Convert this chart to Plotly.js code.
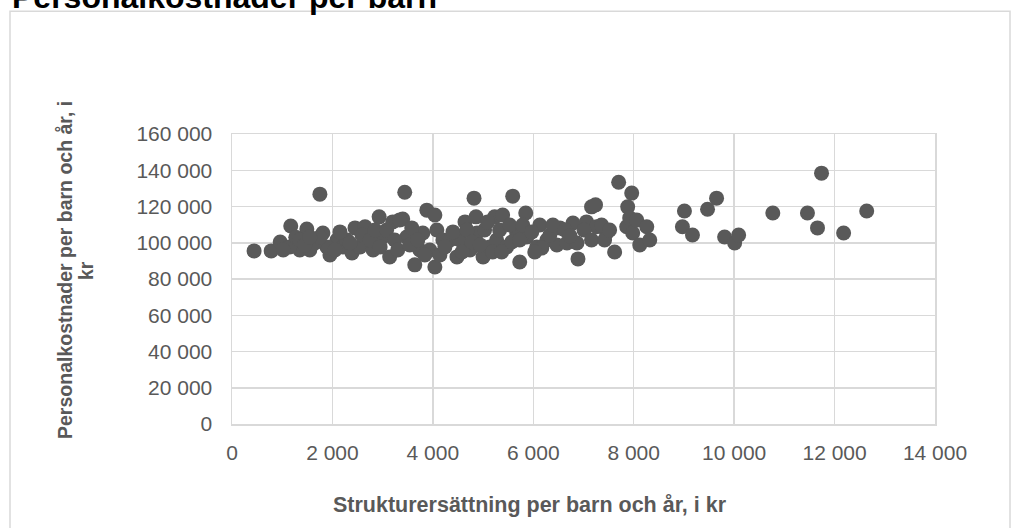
<!DOCTYPE html>
<html>
<head>
<meta charset="utf-8">
<script src="https://cdn.plot.ly/plotly-3.0.1.min.js"></script>
<style>
  html, body { margin: 0; padding: 0; background: #ffffff; }
  #chart { width: 1012px; height: 528px; }
</style>
</head>
<body>
<div id="chart"></div>
<script>
// Strukturersättning per barn och år (kr)
const strukturersattning = [
  440, 780, 960, 1170, 1750, 1490, 1350, 1550, 1150, 1020, 1810, 1950, 2090, 1890, 2210,
  2290, 2390, 2450, 2650, 2550, 2810, 2930, 3000, 3140, 3200, 3400, 3440, 3480, 3640, 3740,
  3800, 3880, 3940, 4040, 4040, 4080, 4200, 4340, 4480, 4540, 4640, 4740, 4820, 4860, 4880,
  5000, 5130, 5230, 5270, 5390, 5470, 5590, 5670, 5730, 5850, 5870, 6070, 6130, 6270, 6170,
  6470, 6530, 6670, 6790, 6870, 6890, 7060, 7160, 7240, 7260, 7460, 7620, 7700, 7860, 7880,
  7920, 7960, 7980, 8060, 8120, 8260, 8320, 9010, 8970, 9170, 9470, 9650, 9810, 10010, 10090,
  10770, 11460, 11660, 11740, 12180, 12640,
  1270, 1650, 1750, 2050, 2150, 2350, 2590, 2750, 2850, 2950, 3080, 3240, 3300, 3340, 3540,
  3580, 3700, 3840, 4140, 4240, 4400, 4580, 4680, 4780, 4940, 5030, 5090, 5190, 5330, 5370,
  5530, 5570, 5730, 5790, 5970, 6030, 6330, 6390, 6630, 6730, 7010, 7160, 7360, 7420, 7520,
  1350, 1450, 1550
];
// Personalkostnader per barn och år (kr)
const personalkostnader = [
  95500, 95500, 100400, 109200, 126800, 107600, 96000, 96000, 97700, 96000, 105400, 93200, 101500, 97700, 97700,
  101500, 94400, 108200, 108800, 97700, 96000, 114300, 103200, 92200, 111500, 113100, 127900, 103200, 87800, 96000,
  105400, 118000, 96000, 115300, 86600, 107000, 101500, 101500, 92200, 101500, 111500, 96000, 124600, 114300, 105400,
  92200, 97700, 114300, 101500, 115300, 97700, 125700, 105400, 89400, 116400, 103200, 97700, 109800, 101500, 97100,
  98800, 108200, 99900, 110900, 99900, 91100, 111500, 119800, 120900, 108800, 105400, 94900, 133400, 108800, 119800,
  113700, 127400, 105400, 112500, 98800, 108800, 101500, 117500, 108800, 104300, 118500, 124600, 103200, 99900, 104300,
  116400, 116400, 108200, 138400, 105400, 117500,
  103000, 99900, 103200, 96000, 106000, 99900, 104300, 101500, 107000, 97700, 107000, 101500, 96000, 112600, 98800,
  108200, 101500, 93200, 93200, 97700, 106000, 94900, 107000, 100400, 98800, 107000, 111500, 94900, 107000, 94900,
  109800, 100400, 101500, 109800, 106000, 94900, 104300, 109800, 107000, 103800, 107000, 101500, 109800, 101500, 107000,
  101500, 98800, 103200
];
const xTickVals = [0, 2000, 4000, 6000, 8000, 10000, 12000, 14000];
const xTickText = ["0", "2 000", "4 000", "6 000", "8 000", "10 000", "12 000", "14 000"];
const yTickVals = [0, 20000, 40000, 60000, 80000, 100000, 120000, 140000, 160000];
const yTickText = ["0", "20 000", "40 000", "60 000", "80 000", "100 000", "120 000", "140 000", "160 000"];

const chartTitle = "Personalkostnader per barn";
const xTitle = "Strukturersättning per barn och år, i kr";
const yTitleLines = ["Personalkostnader per barn och år, i", "kr"];

const FONT = "'Liberation Sans', Arial, sans-serif";
const GREY = "#595959";
const GRID = "#d9d9d9";

const trace = {
  type: "scatter",
  mode: "markers",
  x: strukturersattning,
  y: personalkostnader,
  marker: { color: GREY, size: 15, line: { width: 0 } },
  hoverinfo: "x+y"
};

const layout = {
  width: 1012,
  height: 528,
  margin: { l: 232, r: 77, t: 134, b: 104 },
  paper_bgcolor: "#ffffff",
  plot_bgcolor: "#ffffff",
  showlegend: false,
  font: { family: FONT, color: GREY, size: 21 },
  xaxis: {
    range: [0, 14000],
    tickvals: xTickVals,
    ticktext: xTickText,
    showgrid: true,
    gridcolor: GRID,
    gridwidth: 1.5,
    zeroline: false,
    showline: true,
    linecolor: GRID,
    linewidth: 1.5,
    mirror: true,
    ticks: "",
    ticklabelstandoff: 9,
    tickfont: { family: FONT, size: 21, color: GREY },
    fixedrange: true
  },
  yaxis: {
    range: [0, 160000],
    tickvals: yTickVals,
    ticktext: yTickText,
    showgrid: true,
    gridcolor: GRID,
    gridwidth: 1.5,
    zeroline: false,
    showline: true,
    linecolor: GRID,
    linewidth: 1.5,
    mirror: true,
    ticks: "",
    ticklabelstandoff: 14,
    tickfont: { family: FONT, size: 21, color: GREY },
    fixedrange: true
  },
  shapes: [{
    type: "rect", xref: "paper", yref: "paper",
    x0: -0.3158, x1: 1.1067, y0: -0.45, y1: 1.4229,
    line: { color: GRID, width: 1.5 }, fillcolor: "rgba(0,0,0,0)", layer: "below"
  }],
  annotations: [
    {
      text: "<b>" + chartTitle + "</b>", xref: "paper", yref: "paper",
      x: -0.3158, y: 1.4731, xanchor: "left", yanchor: "middle", showarrow: false,
      font: { family: FONT, size: 32, color: "#000000" }
    },
    {
      text: "<b>" + xTitle + "</b>", xref: "paper", yref: "paper",
      x: 0.424, y: -0.278, xanchor: "center", yanchor: "middle", showarrow: false,
      font: { family: FONT, size: 21.5, color: GREY }
    },
    {
      text: "<b>" + yTitleLines[0] + "</b>", xref: "paper", yref: "paper",
      x: -0.2376, y: 0.531, xanchor: "center", yanchor: "middle", showarrow: false,
      textangle: -90,
      font: { family: FONT, size: 19.5, color: GREY }
    },
    {
      text: "<b>" + yTitleLines[1] + "</b>", xref: "paper", yref: "paper",
      x: -0.2077, y: 0.531, xanchor: "center", yanchor: "middle", showarrow: false,
      textangle: -90,
      font: { family: FONT, size: 19.5, color: GREY }
    }
  ]
};

Plotly.newPlot("chart", [trace], layout, { displayModeBar: false, staticPlot: true });
</script>
</body>
</html>
